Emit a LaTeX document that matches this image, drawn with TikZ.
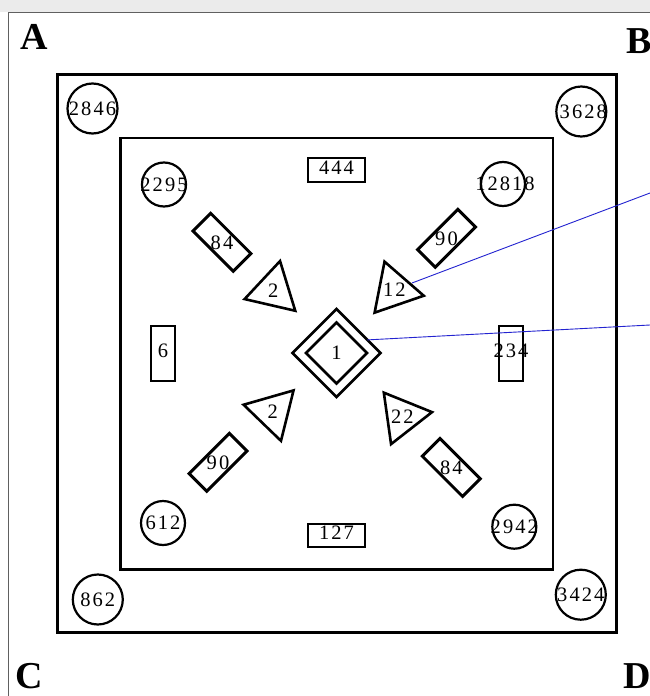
\documentclass[tikz,border=0pt]{standalone}
\usepackage{fontspec}
\setmainfont{Liberation Serif}
\newfontfamily\numfont[LetterSpace=10]{Liberation Serif}
\usetikzlibrary{shapes.geometric}
\definecolor{bandgray}{HTML}{EBEBEB}
\definecolor{framegray}{HTML}{606060}
\definecolor{linkblue}{HTML}{2323D0}
\begin{document}
\begin{tikzpicture}[x=1pt,y=-1pt,
  every node/.style={font=\numfont\fontsize{20.5}{22}\selectfont, inner sep=0pt},
  sq/.style={draw, line width=2.8pt},
  ring/.style={circle, draw, line width=2.2pt, minimum size=#1},
  box/.style={rectangle, draw, line width=2.4pt, minimum width=56.5pt, minimum height=23.5pt, text depth=5pt},
  vbox/.style={rectangle, draw, line width=2.4pt, minimum width=23.5pt, minimum height=54.5pt, text depth=5pt},
  tbox/.style={rectangle, draw, line width=3pt, minimum width=57pt, minimum height=25pt},
  tri/.style={regular polygon, regular polygon sides=3, draw, line width=2.6pt, minimum size=60pt, regular polygon rotate=#1},
  gem/.style={diamond, draw, line width=2.8pt, outer sep=0pt, minimum width=#1, minimum height=#1},
  corner/.style={font=\bfseries\fontsize{38}{40}\selectfont},
  link/.style={draw=linkblue, line width=0.9pt}
]
\useasboundingbox (0,0) rectangle (650,696);
\fill[white] (0,0) rectangle (650,696);
% frame
\fill[bandgray] (0,0) rectangle (650,11.5);
\draw[framegray, line width=1.5pt] (8.5,696) -- (8.5,12.5) -- (650,12.5);
% squares
\draw[sq] (57.3,74.7) rectangle (616.3,632.8);
\draw[sq] (120.7,138) rectangle (553,569.2);
% corner labels
\node[corner] (lA) at (34,36.5) {A};
\node[corner] (lB) at (639,41) {B};
\node[corner] (lC) at (29,676) {C};
\node[corner] (lD) at (637.5,676) {D};
% outer circles
\node[ring=50pt] (c2846) at (92.5,108.5) {\makebox[0pt]{2846}};
\node[ring=50pt] (c3628) at (581.3,111.5) {\makebox[0pt]{\hspace{4pt}3628}};
\node[ring=50pt] (c862) at (97.8,599.5) {\makebox[0pt]{862}};
\node[ring=50pt] (c3424) at (580.8,594.7) {\makebox[0pt]{3424}};
% inner circles
\node[ring=44pt] (c2295) at (164,184.5) {\makebox[0pt]{2295}};
\node[ring=44pt] (c12818) at (503,184) {\makebox[0pt]{\hspace{4pt}12818}};
\node[ring=44pt] (c612) at (163,523) {\makebox[0pt]{612}};
\node[ring=44pt] (c2942) at (514.3,526.7) {\makebox[0pt]{2942}};
% rectangles
\node[box] (b444) at (336.5,170) {444};
\node[box] (b127) at (336.5,535.5) {127};
\node[vbox] (b6) at (163,353.5) {6};
\node[vbox] (b234) at (511,353.5) {\makebox[0pt]{234}};
% tilted rectangles
\node[tbox, rotate=-45] (r84a) at (222,242.3) {};
\node (t84a) at (r84a) {84};
\node[tbox, rotate=45] (r90a) at (446.5,238.3) {};
\node (t90a) at (r90a) {90};
\node[tbox, rotate=45] (r90b) at (218,462.3) {};
\node (t90b) at (r90b) {90};
\node[tbox, rotate=-45] (r84b) at (451.3,467.5) {};
\node (t84b) at (r84b) {84};
% triangles
\node[tri=-13] (tr2a) at (273.3,290.3) {\makebox[0pt]{2}};
\node[tri=19] (tr12) at (394.3,290) {\makebox[0pt]{12}};
\node[tri=-44] (tr2b) at (272.7,412) {\makebox[0pt]{2}};
\node[tri=38] (tr22) at (402.3,416.3) {\makebox[0pt]{22}};
% central diamond
\node[gem=88pt] (dOut) at (336.5,353) {};
\node[gem=61pt] (dIn) at (336.5,353) {1};
% blue connectors
\coordinate (p12) at (412,283);
\coordinate (e1) at (650,193);
\coordinate (e2) at (650,325);
\draw[link] (p12) -- (e1);
\draw[link] (dOut.23) -- (e2);
\end{tikzpicture}
\end{document}
